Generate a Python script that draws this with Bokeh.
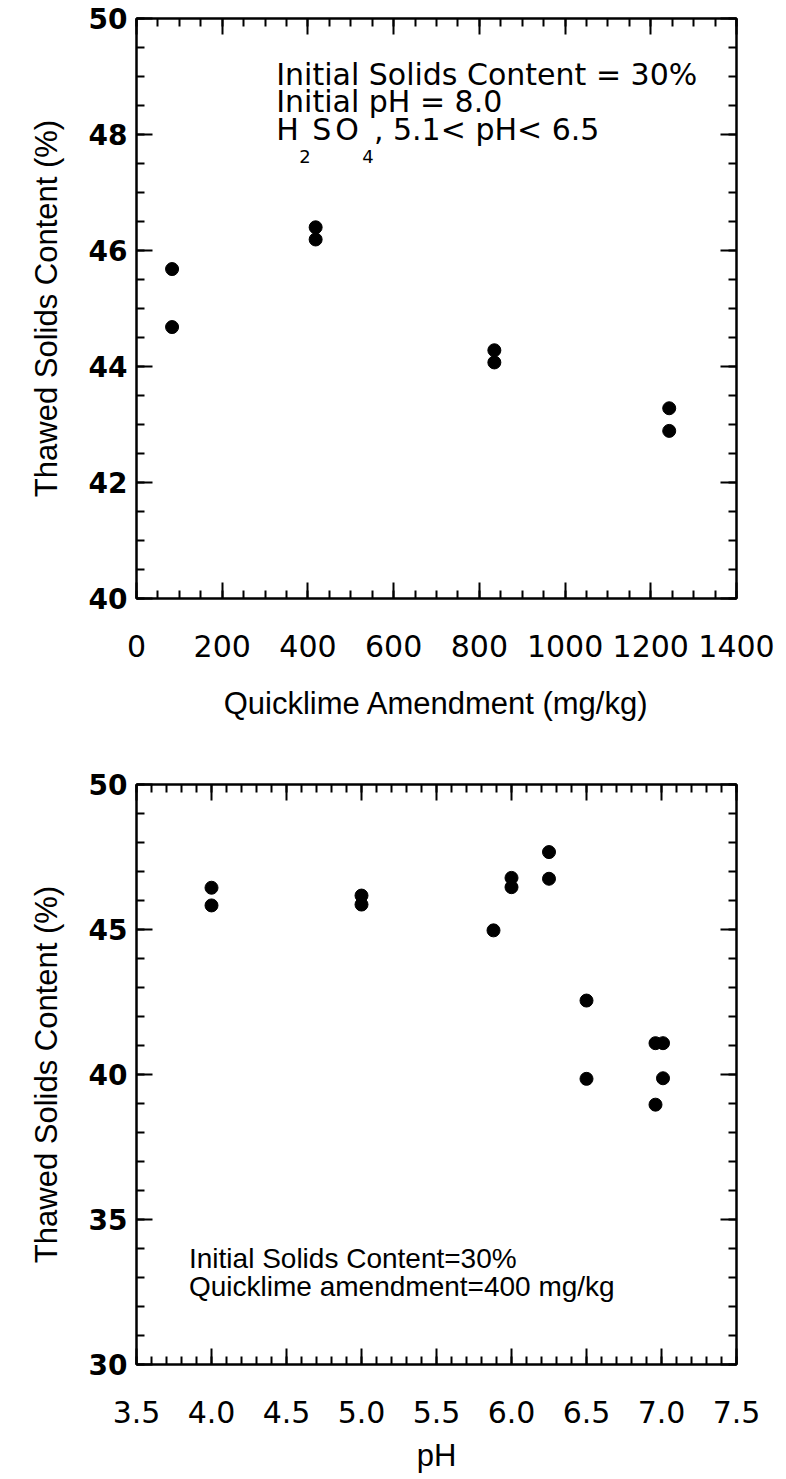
from bokeh.plotting import figure
from bokeh.models import LinearAxis, SingleIntervalTicker, Label, PrintfTickFormatter, Range1d
from bokeh.layouts import column
from bokeh.embed import file_html
from bokeh.resources import INLINE

# ---- data: top panel (thawed solids vs quicklime amendment) ----
quicklime_mgkg = [83, 83, 418, 418, 835, 835, 1243, 1243]
thawed_top = [45.68, 44.68, 46.40, 46.19, 44.28, 44.07, 43.28, 42.89]

# ---- data: bottom panel (thawed solids vs pH) ----
ph_values = [4.0, 4.0, 5.0, 5.0, 5.88, 6.0, 6.0, 6.25, 6.25, 6.5, 6.5, 6.96, 7.01, 7.01, 6.96]
thawed_bottom = [46.44, 45.83, 46.17, 45.86, 44.97, 46.78, 46.46, 47.67, 46.75,
                 42.55, 39.85, 41.08, 41.08, 39.87, 38.96]

y_title = "Thawed Solids Content (%)"
x_title_top = "Quicklime Amendment (mg/kg)"
x_title_bottom = "pH"

TICK_FONT = "DejaVu Sans"
TITLE_FONT = "Liberation Sans"


def style_axis(ax, ticker, show_labels, standoff=9, size="28px", style="normal"):
    ax.ticker = ticker
    ax.axis_line_color = "black"
    ax.axis_line_width = 2
    ax.major_tick_line_color = "black"
    ax.major_tick_line_width = 2
    ax.minor_tick_line_color = "black"
    ax.minor_tick_line_width = 2
    ax.major_tick_in = 16
    ax.major_tick_out = 0
    ax.minor_tick_in = 8
    ax.minor_tick_out = 0
    if show_labels:
        ax.major_label_text_font = TICK_FONT
        ax.major_label_text_font_size = size
        ax.major_label_text_font_style = style
        ax.major_label_text_color = "black"
        ax.major_label_standoff = standoff
    else:
        ax.major_label_text_color = None
        ax.major_label_text_font_size = "1px"
        ax.major_label_standoff = 0


def make_panel(x, y, xr, yr, xint, xminor, yint, yminor, xtitle, height,
               left, right, top, bottom, xstand, title_stand_x, xfmt=None):
    p = figure(width=786, height=height, x_range=Range1d(*xr), y_range=Range1d(*yr),
               output_backend="svg", toolbar_location=None,
               min_border_left=left, min_border_right=right,
               min_border_top=top, min_border_bottom=bottom)
    p.background_fill_color = "white"
    p.border_fill_color = "white"
    p.outline_line_color = "black"
    p.outline_line_width = 2
    p.xgrid.grid_line_color = None
    p.ygrid.grid_line_color = None

    style_axis(p.xaxis[0], SingleIntervalTicker(interval=xint, num_minor_ticks=xminor), True,
               standoff=xstand, size="30px")
    style_axis(p.yaxis[0], SingleIntervalTicker(interval=yint, num_minor_ticks=yminor), True,
               standoff=9, size="28px", style="bold")
    if xfmt:
        p.xaxis[0].formatter = PrintfTickFormatter(format=xfmt)

    p.xaxis[0].axis_label = xtitle
    p.yaxis[0].axis_label = y_title
    for ax in (p.xaxis[0], p.yaxis[0]):
        ax.axis_label_text_font = TITLE_FONT
        ax.axis_label_text_font_style = "normal"
        ax.axis_label_text_font_size = "31px"
        ax.axis_label_text_color = "black"
    p.xaxis[0].axis_label_standoff = title_stand_x
    p.yaxis[0].axis_label_standoff = 22

    top_ax = LinearAxis()
    style_axis(top_ax, SingleIntervalTicker(interval=xint, num_minor_ticks=xminor), False)
    p.add_layout(top_ax, "above")
    right_ax = LinearAxis()
    style_axis(right_ax, SingleIntervalTicker(interval=yint, num_minor_ticks=yminor), False)
    p.add_layout(right_ax, "right")

    p.scatter(x=x, y=y, marker="circle", size=13, fill_color="black", line_color="black")
    return p


p1 = make_panel(quicklime_mgkg, thawed_top, (0, 1400), (40, 50), 200, 4, 2, 4,
                x_title_top, 748, 131, 50, 18, 150, 36, 26)

# annotation (top panel)
ann_font = "DejaVu Sans"
for txt, yy in [("Initial Solids Content = 30%", 49.035), ("Initial pH = 8.0", 48.565)]:
    p1.add_layout(Label(x=326, y=yy, text=txt, text_font=ann_font, text_font_size="30px",
                        text_baseline="alphabetic", text_color="black"))
line3 = [("H", 326, 48.085, "30px"), ("2", 380, 47.62, "18px"), ("S", 410, 48.085, "30px"),
         ("O", 464, 48.085, "30px"), ("4", 527, 47.62, "18px"),
         (", 5.1< pH< 6.5", 554, 48.085, "30px")]
for txt, xx, yy, fs in line3:
    p1.add_layout(Label(x=xx, y=yy, text=txt, text_font=ann_font, text_font_size=fs,
                        text_baseline="alphabetic", text_color="black"))

p2 = make_panel(ph_values, thawed_bottom, (3.5, 7.5), (30, 50), 0.5, 5, 5, 5,
                x_title_bottom, 731, 136, 44, 36, 115, 36, 12, xfmt="%.1f")
for txt, yy in [("Initial Solids Content=30%", 33.66), ("Quicklime amendment=400 mg/kg", 32.70)]:
    p2.add_layout(Label(x=3.85, y=yy, text=txt, text_font="Liberation Sans",
                        text_font_size="28px", text_baseline="alphabetic", text_color="black"))

layout = column(p1, p2)
open("out.html", "w").write(file_html(layout, INLINE))
